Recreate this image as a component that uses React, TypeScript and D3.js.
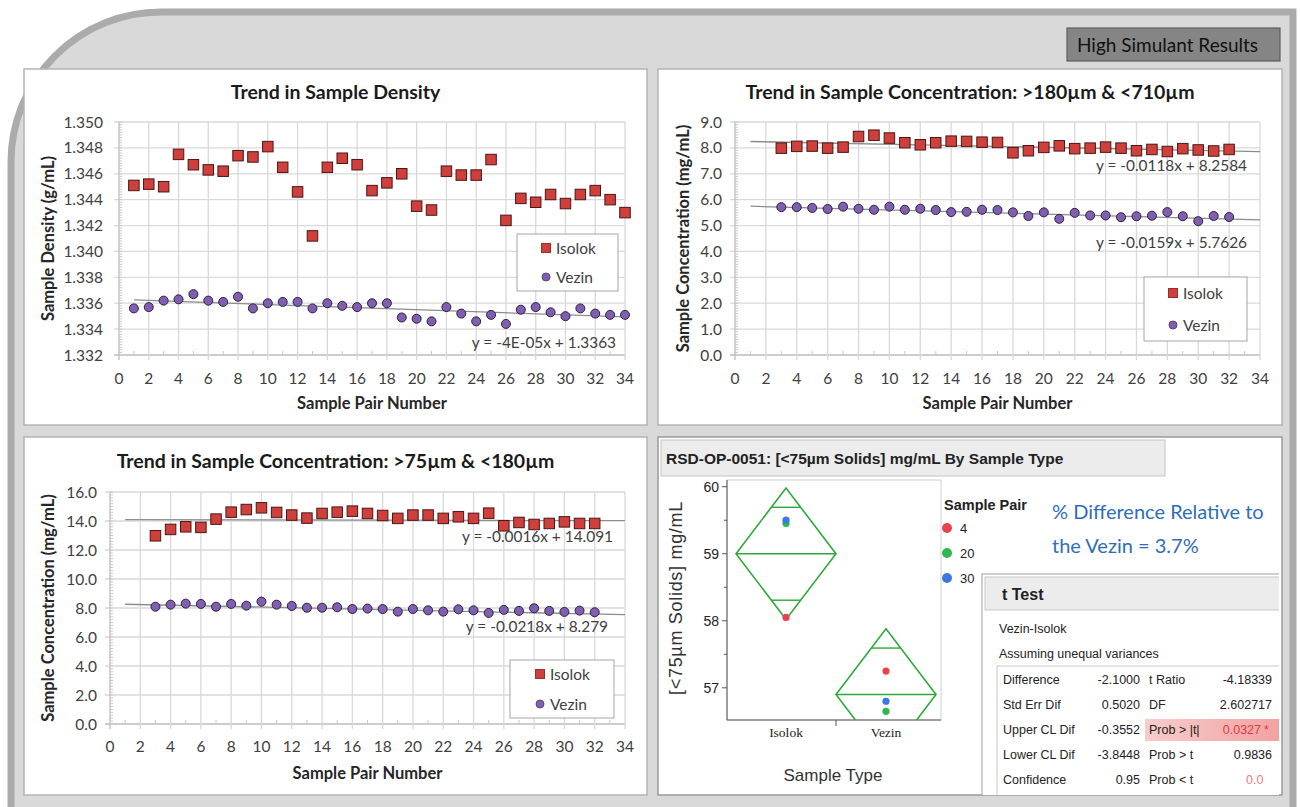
import React from 'react';
import * as d3 from 'd3';

// ---------- DATA ----------
const pairsDensity = [1,2,3,4,5,6,7,8,9,10,11,12,13,14,15,16,17,18,19,20,21,22,23,24,25,26,27,28,29,30,31,32,33,34];
const densityIsolok = [1.3451,1.3452,1.3450,1.3475,1.3467,1.3463,1.3462,1.3474,1.3473,1.3481,1.3465,1.3446,1.3412,1.3465,1.3472,1.3467,1.3447,1.3453,1.3460,1.3435,1.3432,1.3462,1.3459,1.3459,1.3471,1.3424,1.3441,1.3438,1.3444,1.3437,1.3444,1.3447,1.3440,1.3430];
const densityVezin = [1.3356,1.3357,1.3362,1.3363,1.3367,1.3362,1.3361,1.3365,1.3356,1.3360,1.3361,1.3361,1.3356,1.3360,1.3358,1.3357,1.3360,1.3360,1.3349,1.3348,1.3346,1.3357,1.3352,1.3346,1.3351,1.3344,1.3355,1.3357,1.3353,1.3350,1.3356,1.3352,1.3351,1.3351];

const pairsConc = [3,4,5,6,7,8,9,10,11,12,13,14,15,16,17,18,19,20,21,22,23,24,25,26,27,28,29,30,31,32];
const conc180Isolok = [7.99,8.06,8.07,7.99,8.03,8.44,8.49,8.38,8.20,8.12,8.20,8.26,8.25,8.22,8.21,7.81,7.89,8.02,8.08,7.97,7.99,8.03,7.99,7.89,7.94,7.86,7.97,7.92,7.88,7.94];
const conc180Vezin = [5.71,5.71,5.68,5.64,5.73,5.65,5.61,5.73,5.61,5.65,5.60,5.52,5.53,5.61,5.60,5.51,5.37,5.51,5.26,5.49,5.39,5.39,5.32,5.36,5.38,5.52,5.36,5.17,5.37,5.33];
const conc75Isolok = [12.98,13.42,13.60,13.56,14.13,14.61,14.79,14.91,14.59,14.41,14.20,14.52,14.61,14.68,14.52,14.38,14.18,14.41,14.41,14.18,14.29,14.18,14.54,13.67,13.90,13.76,13.83,13.94,13.83,13.83];
const conc75Vezin = [8.09,8.23,8.30,8.28,8.09,8.28,8.16,8.44,8.23,8.14,8.02,8.02,8.05,7.93,7.96,7.93,7.75,7.93,7.84,7.75,7.91,7.84,7.66,7.87,7.80,7.98,7.80,7.73,7.82,7.71];

const pairTicks = [0,2,4,6,8,10,12,14,16,18,20,22,24,26,28,30,32,34];
const densityTicks = [1.332,1.334,1.336,1.338,1.340,1.342,1.344,1.346,1.348,1.350];
const conc180Ticks = [0,1,2,3,4,5,6,7,8,9];
const conc75Ticks = [0,2,4,6,8,10,12,14,16];
const seriesNames = ['Isolok','Vezin'];

const densityTrendSlopes = [-0.00004];
const densityTrendIntercepts = [1.3363];
const densityTrendLabels = ['y = -4E-05x + 1.3363'];
const conc180TrendSlopes = [-0.0118,-0.0159];
const conc180TrendIntercepts = [8.2584,5.7626];
const conc180TrendLabels = ['y = -0.0118x + 8.2584','y = -0.0159x + 5.7626'];
const conc75TrendSlopes = [-0.0016,-0.0218];
const conc75TrendIntercepts = [14.091,8.279];
const conc75TrendLabels = ['y = -0.0016x + 14.091','y = -0.0218x + 8.279'];

const jmpTypes = ['Isolok','Vezin'];
const jmpPairs = ['4','20','30'];
const solidsIsolok = [58.05,59.45,59.50];
const solidsVezin = [57.25,56.65,56.80];
const jmpCiHalf = [0.98,0.98];
const jmpTicks = [57,58,59,60];

const tTestLeftLabels = ['Difference','Std Err Dif','Upper CL Dif','Lower CL Dif','Confidence'];
const tTestLeftValues = ['-2.1000','0.5020','-0.3552','-3.8448','0.95'];
const tTestRightLabels = ['t Ratio','DF','Prob > |t|','Prob > t','Prob < t'];
const tTestRightValues = ['-4.18339','2.602717','0.0327','0.9836','0.0164'];
const tTestSignificant = [false,false,true,false,true];

// ---------- STYLE ----------
const FONT = 'Lato, "Open Sans", sans-serif';
const JFONT = '"Liberation Sans", Arial, sans-serif';
const RED = '#cf3f3c';
const RED_S = '#4a1616';
const PUR = '#7f5fae';
const PUR_S = '#2c1f44';
const PAIR_COLORS = ['#e8434b','#2fb84b','#3b78e6'];

function Marker({ shape, cx, cy, size, legend }: any) {
  if (shape === 'square') {
    return <rect x={cx - size / 2} y={cy - size / 2} width={size} height={size} fill={RED} stroke={legend ? '#9a2e2c' : RED_S} strokeWidth={1} />;
  }
  return <circle cx={cx} cy={cy} r={size / 2} fill={PUR} stroke={legend ? '#5e4585' : PUR_S} strokeWidth={1} />;
}

function ExcelChart(p: any) {
  const x = d3.scaleLinear().domain([p.xTicks[0], p.xTicks[p.xTicks.length - 1]]).range(p.xPx);
  const y = d3.scaleLinear().domain([p.yTicks[0], p.yTicks[p.yTicks.length - 1]]).range(p.yPx);
  const [xl, xr] = p.xPx;
  const [yb, yt] = p.yPx;
  const minorY = d3.range(p.yTicks[0], p.yTicks[p.yTicks.length - 1] + 1e-9, p.yMinor);
  const minorX = d3.range(p.xTicks[0] + 1, p.xTicks[p.xTicks.length - 1], 2);
  const fmt = d3.format(p.yFmt);
  const midX = (xl + xr) / 2;
  const midY = (yb + yt) / 2;
  const pc = p.panel;
  return (
    <g>
      <rect x={pc.x} y={pc.y} width={pc.w} height={pc.h} fill="#ffffff" stroke="#b4b4b4" strokeWidth={1.5} />
      <text x={pc.x + pc.w / 2} y={p.titleY} textAnchor="middle" fontFamily={FONT} fontWeight={700} fontSize={19.5} fill="#1a1a1a">{p.title}</text>
      {p.yTicks.map((t: number) => (
        <line key={'gy' + t} x1={xl - 5} x2={xr} y1={y(t)} y2={y(t)} stroke={t === p.yTicks[0] ? '#bdbdbd' : '#d9d9d9'} strokeWidth={1.3} />
      ))}
      {p.xTicks.map((t: number) => (
        <line key={'gx' + t} x1={x(t)} x2={x(t)} y1={yt} y2={yb + 5} stroke={t === p.xTicks[0] ? '#bdbdbd' : '#d9d9d9'} strokeWidth={1.3} />
      ))}
      {minorY.map((t: number, i: number) => (
        <line key={'my' + i} x1={xl} x2={xl + 3} y1={y(t)} y2={y(t)} stroke="#c8c8c8" strokeWidth={1} />
      ))}
      {minorX.map((t: number) => (
        <line key={'mx' + t} x1={x(t)} x2={x(t)} y1={yb} y2={yb - 4} stroke="#c8c8c8" strokeWidth={1} />
      ))}
      {p.yTicks.map((t: number) => (
        <text key={'ly' + t} x={p.yTickX} y={y(t) + 5.5} textAnchor="end" fontFamily={FONT} fontSize={15.5} fill="#404040">{fmt(t)}</text>
      ))}
      {p.xTicks.map((t: number) => (
        <text key={'lx' + t} x={x(t)} y={p.xTickY} textAnchor="middle" fontFamily={FONT} fontSize={15.5} fill="#404040">{t}</text>
      ))}
      <text x={midX} y={p.xTitleY} textAnchor="middle" fontFamily={FONT} fontWeight={700} fontSize={16.5} fill="#262626">Sample Pair Number</text>
      <text transform={`translate(${p.yTitleX},${midY}) rotate(-90)`} textAnchor="middle" dy={5.5} fontFamily={FONT} fontWeight={700} fontSize={16.5} fill="#262626">{p.yTitle}</text>
      {p.trends.map((tr: any, i: number) => (
        <line key={'tr' + i} x1={x(1)} x2={x(34)} y1={y(tr.slope * 1 + tr.intercept)} y2={y(tr.slope * 34 + tr.intercept)} stroke="#8c8c8c" strokeWidth={1.3} />
      ))}
      {p.series.map((s: any) => (
        <g key={s.name}>
          {s.xs.map((xv: number, i: number) => (
            <Marker key={i} shape={s.shape} cx={x(xv)} cy={y(s.ys[i])} size={s.shape === 'square' ? 10.5 : 9} />
          ))}
        </g>
      ))}
      {p.trends.map((tr: any, i: number) => (
        <text key={'tl' + i} x={tr.lx} y={tr.ly + 5} textAnchor="end" fontFamily={FONT} fontSize={15.4} fill="#404040">{tr.label}</text>
      ))}
      <rect x={p.legend.x} y={p.legend.y} width={p.legend.w} height={p.legend.h} fill="#ffffff" stroke="#a6a6a6" strokeWidth={1} />
      {p.series.map((s: any, i: number) => (
        <g key={'lg' + i}>
          <Marker shape={s.shape} cx={p.legend.mx} cy={p.legend.ys[i]} size={s.shape === 'square' ? 9 : 8} legend />
          <text x={p.legend.mx + 10} y={p.legend.ys[i] + 5.5} fontFamily={FONT} fontSize={15.5} fill="#404040">{s.name}</text>
        </g>
      ))}
    </g>
  );
}

function JmpPanel() {
  const pc = { x: 658, y: 437, w: 624, h: 358 };
  const frame = { l: 727, r: 941, t: 480, b: 720 };
  const y = d3.scaleLinear().domain([56.52, 60.1]).range([frame.b, frame.t]);
  const xb = d3.scaleBand().domain(jmpTypes).range([736, 936]).padding(0);
  const groups = [solidsIsolok, solidsVezin];
  const rowY = d3.scalePoint().domain(d3.range(tTestLeftLabels.length).map(String)).range([684, 784]);
  return (
    <g>
      <defs>
        <clipPath id="jmpFrame"><rect x={frame.l} y={frame.t} width={frame.r - frame.l} height={frame.b - frame.t} /></clipPath>
        <clipPath id="jmpPanel"><rect x={pc.x} y={pc.y} width={pc.w - 3} height={pc.h} /></clipPath>
        <clipPath id="lastVal"><rect x={1140} y={760} width={123} height={30} /></clipPath>
        <linearGradient id="pinkHi" x1="0" x2="1" y1="0" y2="0">
          <stop offset="0" stopColor="#f8cccc" />
          <stop offset="1" stopColor="#f2a0a0" />
        </linearGradient>
      </defs>
      <rect x={pc.x} y={pc.y} width={pc.w} height={pc.h} fill="#ffffff" stroke="#9a9a9a" strokeWidth={1.5} />
      <rect x={661} y={440} width={504} height={36} fill="#ececec" stroke="#c4c4c4" strokeWidth={1} />
      <text x={666} y={464} fontFamily={JFONT} fontWeight={700} fontSize={15.5} fill="#222">RSD-OP-0051:  [&lt;75µm Solids] mg/mL By Sample Type</text>

      <rect x={frame.l} y={frame.t} width={frame.r - frame.l} height={frame.b - frame.t} fill="none" stroke="#d0d0d0" strokeWidth={1} />
      <line x1={frame.l} x2={frame.l} y1={frame.t} y2={frame.b} stroke="#555" strokeWidth={1} />
      <line x1={frame.l} x2={frame.r} y1={frame.b} y2={frame.b} stroke="#555" strokeWidth={1} />
      {jmpTicks.map(t => (
        <g key={'jt' + t}>
          <line x1={frame.l - 5} x2={frame.l} y1={y(t)} y2={y(t)} stroke="#555" />
          <text x={frame.l - 8} y={y(t) + 5} textAnchor="end" fontFamily={JFONT} fontSize={14} fill="#222">{t}</text>
        </g>
      ))}
      {d3.range(57.5, 60, 1).map(t => (
        <line key={'jm' + t} x1={frame.l - 3} x2={frame.l} y1={y(t)} y2={y(t)} stroke="#555" />
      ))}
      <line x1={xb('Vezin')!} x2={xb('Vezin')!} y1={frame.b} y2={frame.b + 6} stroke="#555" />
      {jmpTypes.map(t => (
        <text key={'jx' + t} x={xb(t)! + xb.bandwidth() / 2} y={737} textAnchor="middle" fontFamily='"Liberation Serif", serif' fontSize={13.5} fill="#222">{t}</text>
      ))}
      <text x={833} y={781} textAnchor="middle" fontFamily={JFONT} fontSize={17} fill="#333">Sample Type</text>
      <text transform={`translate(682,${(frame.t + frame.b) / 2 - 2}) rotate(-90)`} textAnchor="middle" fontFamily={JFONT} fontSize={18} letterSpacing={0.7} fill="#333">[&lt;75µm Solids] mg/mL</text>

      <g clipPath="url(#jmpFrame)">
        {groups.map((vals, gi) => {
          const m = d3.mean(vals)!;
          const h = jmpCiHalf[gi];
          const x0 = xb(jmpTypes[gi])!;
          const x1 = x0 + xb.bandwidth();
          const cx = (x0 + x1) / 2;
          const hw = xb.bandwidth() / 2;
          const ov = h / Math.SQRT2;
          const wAt = (d: number) => hw * (1 - d / h);
          return (
            <g key={'dm' + gi}>
              <path d={`M${x0},${y(m)}L${cx},${y(m + h)}L${x1},${y(m)}L${cx},${y(m - h)}Z`} fill="none" stroke="#2ea83a" strokeWidth={1.6} />
              <line x1={x0} x2={x1} y1={y(m)} y2={y(m)} stroke="#2ea83a" strokeWidth={1.4} />
              <line x1={cx - wAt(ov)} x2={cx + wAt(ov)} y1={y(m + ov)} y2={y(m + ov)} stroke="#2ea83a" strokeWidth={1.4} />
              <line x1={cx - wAt(ov)} x2={cx + wAt(ov)} y1={y(m - ov)} y2={y(m - ov)} stroke="#2ea83a" strokeWidth={1.4} />
              {vals.map((v, i) => (
                <circle key={i} cx={cx} cy={y(v)} r={3.6} fill={PAIR_COLORS[i]} />
              ))}
            </g>
          );
        })}
      </g>

      <text x={944} y={510} fontFamily={JFONT} fontWeight={700} fontSize={14.5} fill="#222">Sample Pair</text>
      {jmpPairs.map((pp, i) => (
        <g key={'jl' + i}>
          <circle cx={947} cy={528 + i * 25} r={5} fill={PAIR_COLORS[i]} />
          <text x={960} y={533 + i * 25} fontFamily={JFONT} fontSize={13} fill="#222">{pp}</text>
        </g>
      ))}

      <text x={1052} y={519} fontFamily={FONT} fontSize={20} fill="#2f6eb5">% Difference Relative to</text>
      <text x={1052} y={553} fontFamily={FONT} fontSize={20} fill="#2f6eb5">the Vezin = 3.7%</text>

      <g clipPath="url(#jmpPanel)">
        <rect x={982} y={574} width={310} height={225} fill="#ffffff" stroke="#b0b0b0" strokeWidth={1.2} />
        <rect x={985} y={577} width={300} height={33} fill="#ececec" stroke="#c8c8c8" strokeWidth={1} />
        <text x={1002} y={600} fontFamily={JFONT} fontWeight={700} fontSize={16} fill="#222">t Test</text>
        <text x={999} y={633} fontFamily={JFONT} fontSize={12.5} fill="#222">Vezin-Isolok</text>
        <text x={999} y={658} fontFamily={JFONT} fontSize={12.5} fill="#222">Assuming unequal variances</text>
        <rect x={997} y={666} width={295} height={132} fill="none" stroke="#c8c8c8" strokeWidth={1} />
        <rect x={1145} y={719} width={140} height={22} fill="url(#pinkHi)" />
        {tTestLeftLabels.map((lab, i) => {
          const ry = rowY(String(i))!;
          const sig = tTestSignificant[i];
          const last = i === tTestLeftLabels.length - 1;
          return (
            <g key={'tt' + i}>
              <text x={1003} y={ry} fontFamily={JFONT} fontSize={12.5} fill="#222">{lab}</text>
              <text x={1140} y={ry} textAnchor="end" fontFamily={JFONT} fontSize={12.5} fill="#222">{tTestLeftValues[i]}</text>
              <text x={1149} y={ry} fontFamily={JFONT} fontSize={12.5} fill="#222">{tTestRightLabels[i]}</text>
              {last ? (
                <g clipPath="url(#lastVal)">
                  <text x={1246} y={ry} fontFamily={JFONT} fontSize={12.5} fill="#ef7a7a">{tTestRightValues[i]}</text>
                </g>
              ) : (
                <g>
                  <text x={sig ? 1261 : 1272} y={ry} textAnchor="end" fontFamily={JFONT} fontSize={12.5} fill={sig ? '#e23b3b' : '#222'}>{tTestRightValues[i]}</text>
                  {sig && <text x={1264} y={ry} fontFamily={JFONT} fontSize={12.5} fill="#e23b3b">*</text>}
                </g>
              )}
            </g>
          );
        })}
      </g>
    </g>
  );
}

export default function App() {
  const densitySeries = [
    { name: seriesNames[0], shape: 'square', xs: pairsDensity, ys: densityIsolok },
    { name: seriesNames[1], shape: 'circle', xs: pairsDensity, ys: densityVezin },
  ];
  const c180Series = [
    { name: seriesNames[0], shape: 'square', xs: pairsConc, ys: conc180Isolok },
    { name: seriesNames[1], shape: 'circle', xs: pairsConc, ys: conc180Vezin },
  ];
  const c75Series = [
    { name: seriesNames[0], shape: 'square', xs: pairsConc, ys: conc75Isolok },
    { name: seriesNames[1], shape: 'circle', xs: pairsConc, ys: conc75Vezin },
  ];
  const densityTrends = densityTrendSlopes.map((s, i) => ({ slope: s, intercept: densityTrendIntercepts[i], label: densityTrendLabels[i], lx: 616, ly: 343 }));
  const c180Pos = [[1247, 166], [1247, 243]];
  const c180Trends = conc180TrendSlopes.map((s, i) => ({ slope: s, intercept: conc180TrendIntercepts[i], label: conc180TrendLabels[i], lx: c180Pos[i][0], ly: c180Pos[i][1] }));
  const c75Pos = [[613, 537], [608, 627]];
  const c75Trends = conc75TrendSlopes.map((s, i) => ({ slope: s, intercept: conc75TrendIntercepts[i], label: conc75TrendLabels[i], lx: c75Pos[i][0], ly: c75Pos[i][1] }));

  return (
    <div style={{ position: 'absolute', left: 0, top: 0 }}>
      <svg width={1300} height={807} style={{ display: 'block' }}>
        <rect x={0} y={0} width={1300} height={807} fill="#ffffff" />
        <path d="M11,815 V162 A150,150 0 0 1 161,12 H1293 V815" fill="#d9d9d9" stroke="#ababab" strokeWidth={7} />
        <rect x={1067} y={28} width={213} height={33} fill="#858585" stroke="#5e5e5e" strokeWidth={1.2} />
        <text x={1077} y={52} fontFamily={FONT} fontSize={19} fill="#111">High Simulant Results</text>

        <ExcelChart
          panel={{ x: 24, y: 69, w: 623, h: 356 }}
          title="Trend in Sample Density" titleY={99}
          yTitle="Sample Density (g/mL)" yTitleX={48}
          xPx={[119, 625]} yPx={[355, 122]}
          xTicks={pairTicks} yTicks={densityTicks} yFmt=".3f" yMinor={0.0002}
          yTickX={103} xTickY={384} xTitleY={409}
          series={densitySeries} trends={densityTrends}
          legend={{ x: 517, y: 234, w: 101, h: 57, mx: 546, ys: [248, 277] }}
        />
        <ExcelChart
          panel={{ x: 658, y: 69, w: 624, h: 356 }}
          title="Trend in Sample Concentration: >180µm & <710µm" titleY={99}
          yTitle="Sample Concentration (mg/mL)" yTitleX={683}
          xPx={[735, 1260]} yPx={[355, 122]}
          xTicks={pairTicks} yTicks={conc180Ticks} yFmt=".1f" yMinor={0.1}
          yTickX={722} xTickY={384} xTitleY={409}
          series={c180Series} trends={c180Trends}
          legend={{ x: 1144, y: 277, w: 103, h: 64, mx: 1173, ys: [293, 325] }}
        />
        <ExcelChart
          panel={{ x: 24, y: 437, w: 623, h: 358 }}
          title="Trend in Sample Concentration: >75µm & <180µm" titleY={468}
          yTitle="Sample Concentration (mg/mL)" yTitleX={48}
          xPx={[110, 625]} yPx={[724, 492]}
          xTicks={pairTicks} yTicks={conc75Ticks} yFmt=".1f" yMinor={0.2}
          yTickX={97} xTickY={752} xTitleY={779}
          series={c75Series} trends={c75Trends}
          legend={{ x: 510, y: 660, w: 104, h: 58, mx: 540, ys: [674, 704] }}
        />
        <JmpPanel />
      </svg>
    </div>
  );
}
